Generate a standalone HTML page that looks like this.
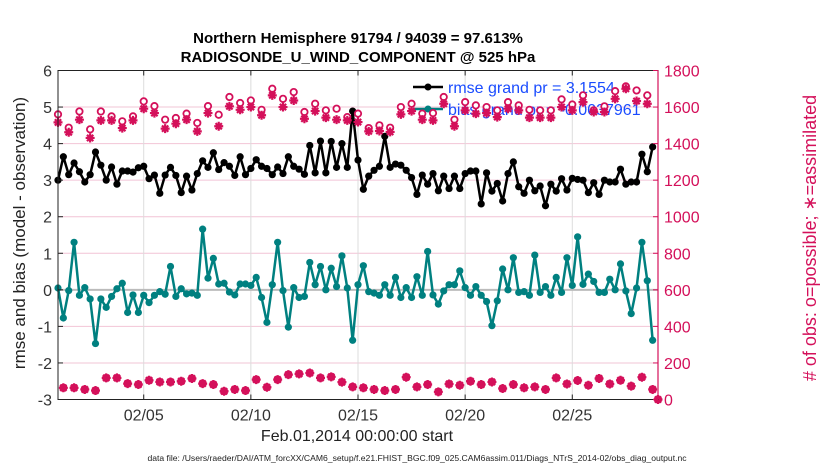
<!DOCTYPE html>
<html><head><meta charset="utf-8"><style>
body{margin:0;background:#fff;}
svg{display:block;font-family:"Liberation Sans",Arial,sans-serif;}
</style></head><body>
<svg id="chart" width="830" height="470" viewBox="0 0 830 470">
<text x="358" y="43" text-anchor="middle" font-size="15" font-weight="bold">Northern Hemisphere 91794 / 94039 = 97.613%</text>
<text x="358" y="62" text-anchor="middle" font-size="15" font-weight="bold">RADIOSONDE_U_WIND_COMPONENT @ 525 hPa</text>
<g id="grid"></g><g id="series"></g><g id="axes"></g>
<text transform="translate(25,233) rotate(-90)" text-anchor="middle" font-size="17" fill="#222">rmse and bias (model - observation)</text>
<text transform="translate(816,238) rotate(-90)" text-anchor="middle" font-size="18" fill="#d4105a"># of obs: o=possible; ∗=assimilated</text>
<text x="357" y="441" text-anchor="middle" font-size="16" fill="#222">Feb.01,2014 00:00:00 start</text>
<text x="417" y="461" text-anchor="middle" font-size="8.6" fill="#222">data file: /Users/raeder/DAI/ATM_forcXX/CAM6_setup/f.e21.FHIST_BGC.f09_025.CAM6assim.011/Diags_NTrS_2014-02/obs_diag_output.nc</text>
</svg>
<script>
const rmse=[3.0,3.64,3.15,3.47,3.23,2.95,3.15,3.77,3.41,3.0,3.36,2.89,3.25,3.25,3.22,3.34,3.38,3.04,3.14,2.64,3.14,3.35,3.13,2.66,3.11,2.73,3.18,3.53,3.35,3.75,3.29,3.48,3.38,3.13,3.64,3.15,3.32,3.56,3.38,3.32,3.15,3.36,3.18,3.64,3.38,3.3,3.16,3.95,3.2,4.07,3.2,4.06,3.35,4.0,3.35,4.89,3.55,2.75,3.11,3.27,3.38,4.2,3.35,3.44,3.41,3.27,3.07,2.61,3.14,2.89,3.18,2.71,3.11,2.77,3.11,2.77,3.18,3.25,3.25,2.35,3.2,2.7,2.91,2.43,3.18,3.5,2.82,2.64,3.0,2.71,2.84,2.3,2.89,2.7,3.04,2.73,3.05,3.02,3.0,2.66,2.93,2.61,3.0,2.95,2.95,3.3,2.89,2.95,2.95,3.71,3.23,3.91];
const bias=[0.05,-0.77,-0.02,1.3,-0.15,0.06,-0.25,-1.47,-0.25,-0.48,-0.18,0.03,0.18,-0.62,-0.14,-0.62,-0.15,-0.35,-0.15,-0.05,-0.12,0.64,-0.18,0.03,-0.11,-0.09,-0.15,1.66,0.32,0.86,0.16,0.18,-0.06,-0.14,0.16,0.16,0.12,0.34,-0.21,-0.89,0.14,1.3,-0.02,-1.02,0.06,-0.21,-0.18,0.75,0.14,0.64,0,0.59,0.09,0.93,0.05,-1.38,0.14,0.66,-0.05,-0.09,-0.15,0.14,-0.15,0.34,-0.21,0.06,-0.21,0.36,-0.15,1.05,-0.14,-0.39,-0.03,0.14,0.14,0.52,0.06,-0.15,0.09,-0.15,-0.32,-0.98,-0.3,0.57,0,0.88,-0.07,-0.05,-0.15,0.95,-0.07,0.09,-0.15,0.34,-0.07,0.88,0.12,1.45,0.15,0.43,0.23,-0.07,-0.07,0.29,0,0.71,-0.03,-0.65,0.05,1.3,0.25,-1.38];
const obsPossible=[1560,64,1487,64,1576,55,1478,49,1576,118,1549,118,1522,87,1549,82,1631,105,1605,96,1531,96,1540,100,1564,115,1513,87,1605,82,1558,45,1655,55,1622,49,1636,109,1585,67,1700,109,1645,136,1682,140,1573,145,1618,118,1582,124,1591,95,1545,69,1564,64,1485,55,1500,49,1487,55,1600,122,1618,69,1564,82,1567,42,1655,85,1531,78,1627,100,1609,82,1600,96,1582,60,1627,82,1609,64,1585,69,1582,55,1582,118,1642,85,1614,104,1664,78,1582,115,1604,85,1687,105,1713,73,1691,122,1664,55,0];
const obsAssim=[1516,64,1462,64,1531,55,1431,49,1527,118,1527,118,1485,87,1527,82,1591,105,1567,96,1482,96,1509,100,1531,115,1467,87,1567,82,1495,45,1604,55,1585,49,1600,109,1555,67,1664,109,1600,136,1636,140,1536,145,1578,118,1542,124,1531,95,1527,69,1518,64,1467,55,1469,49,1464,55,1560,122,1578,69,1531,82,1527,42,1618,85,1495,78,1582,100,1564,82,1567,96,1545,60,1591,82,1582,64,1542,69,1542,55,1542,118,1600,85,1582,104,1627,78,1573,115,1573,85,1645,105,1700,73,1633,122,1618,55,0];
const leftTicks=[-3,-2,-1,0,1,2,3,4,5,6];
const rightTicks=[0,200,400,600,800,1000,1200,1400,1600,1800];
const dateTicks=[4,9,14,19,24];
const dateLabels=["02/05","02/10","02/15","02/20","02/25"];

const NS="http://www.w3.org/2000/svg";
const X0=58,X1=658,Y0=70.5,Y1=399.5,DAYS=28;
const xs=t=>X0+(t/DAYS)*(X1-X0);
const yl=v=>Y1-(v+3)/9*(Y1-Y0);
const yr=n=>Y1-n/1800*(Y1-Y0);
const PINK="#d4105a",TEAL="#008080";
function mk(parent,tag,attrs){const e=document.createElementNS(NS,tag);for(const k in attrs)e.setAttribute(k,attrs[k]);parent.appendChild(e);return e;}
const grid=document.getElementById('grid'),series=document.getElementById('series'),axes=document.getElementById('axes');

leftTicks.forEach(v=>{if(v===-3||v===6||v===0)return;
 const l=mk(grid,'line',{x1:X0,x2:X1,y1:yl(v),y2:yl(v),stroke:'#f2c4d6','stroke-width':1});
 
 });
dateTicks.forEach(d=>{
 const l=mk(grid,'line',{x1:xs(d),x2:xs(d),y1:Y0,y2:Y1,stroke:'#dcdcdc','stroke-width':1});
 
 });
const zl=mk(grid,'line',{x1:X0,x2:X1,y1:yl(0),y2:yl(0),stroke:'#bbbbbb','stroke-width':2});



function drawLine(vals,color,name){
 const g=mk(series,'g',{});
 
 
 const pts=vals.map((v,i)=>xs(i/4)+','+yl(v)).join(' ');
 mk(g,'polyline',{points:pts,fill:'none',stroke:color,'stroke-width':2.5,'stroke-linejoin':'round'});
 vals.forEach((v,i)=>{const c=mk(g,'circle',{cx:xs(i/4),cy:yl(v),r:3.6,fill:color});
  
  });
}
drawLine(bias,TEAL,'bias-series');
drawLine(rmse,'#000','rmse-series');

const lg=mk(series,'g',{});


mk(lg,'line',{x1:413,x2:443,y1:87,y2:87,stroke:'#000','stroke-width':2.5});
mk(lg,'circle',{cx:428,cy:87,r:3.5,fill:'#000'});
mk(lg,'line',{x1:413,x2:443,y1:109,y2:109,stroke:TEAL,'stroke-width':2.5});
mk(lg,'circle',{cx:428,cy:109,r:3.5,fill:TEAL});
const t1=mk(lg,'text',{x:448,y:93,'font-size':16,fill:'#1a4cff'});t1.textContent='rmse grand pr = 3.1554';


const t2=mk(lg,'text',{x:448,y:115,'font-size':16,fill:'#1a4cff'});t2.textContent='bias grand pr = -0.0037961';



function star(g,cx,cy){
 const s=4.5;
 const p=mk(g,'path',{d:`M${cx-s},${cy}H${cx+s}M${cx},${cy-s}V${cy+s}M${cx-s*0.7},${cy-s*0.7}L${cx+s*0.7},${cy+s*0.7}M${cx-s*0.7},${cy+s*0.7}L${cx+s*0.7},${cy-s*0.7}`,stroke:PINK,'stroke-width':2.2});
 
 
}
const og=mk(series,'g',{});


obsPossible.forEach((n,i)=>{
 const c=mk(og,'circle',{cx:xs(i/4),cy:yr(n),r:3.2,fill:'#fff',stroke:PINK,'stroke-width':1.8});
 
 });
obsAssim.forEach((n,i)=>star(og,xs(i/4),yr(n)));

mk(axes,'rect',{x:X0,y:Y0,width:X1-X0,height:Y1-Y0,fill:'none',stroke:'#222','stroke-width':1});
mk(axes,'line',{x1:X1,x2:X1,y1:Y0,y2:Y1,stroke:PINK,'stroke-width':1.2});
leftTicks.forEach(v=>{
 mk(axes,'line',{x1:X0,x2:X0+5,y1:yl(v),y2:yl(v),stroke:'#222'});
 const t=mk(axes,'text',{x:X0-6,y:yl(v)+6,'text-anchor':'end','font-size':16,fill:'#333'});t.textContent=v;
 
 });
rightTicks.forEach(n=>{
 mk(axes,'line',{x1:X1-5,x2:X1,y1:yr(n),y2:yr(n),stroke:PINK});
 const t=mk(axes,'text',{x:X1+6,y:yr(n)+6,'font-size':16,fill:PINK});t.textContent=n;
 
 });
dateTicks.forEach((d,k)=>{
 mk(axes,'line',{x1:xs(d),x2:xs(d),y1:Y1,y2:Y1-5,stroke:'#222'});
 mk(axes,'line',{x1:xs(d),x2:xs(d),y1:Y0,y2:Y0+5,stroke:'#222'});
 const t=mk(axes,'text',{x:xs(d),y:Y1+21,'text-anchor':'middle','font-size':16,fill:'#333'});t.textContent=dateLabels[k];
 
 });
</script>
</body></html>
